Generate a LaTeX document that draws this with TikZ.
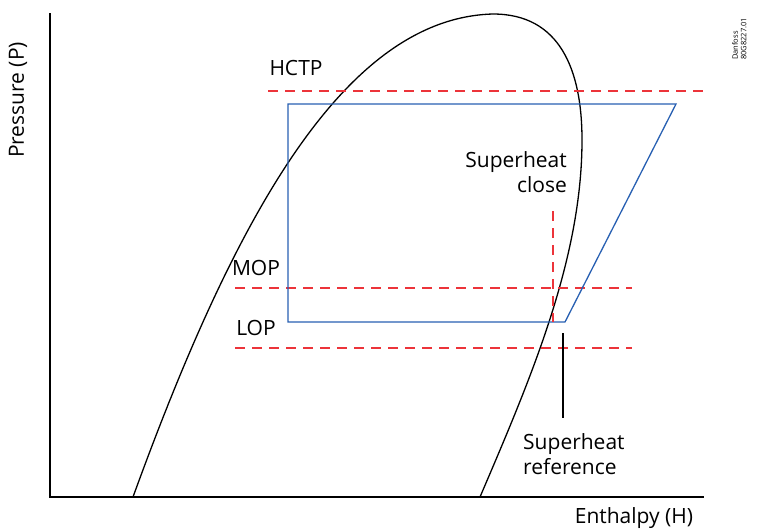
\documentclass[tikz,border=0pt]{standalone}
\usepackage{fontspec}
\setmainfont{Open Sans}
\usepackage{tikz}
\usetikzlibrary{positioning, calc}
\definecolor{limitred}{RGB}{236,52,58}
\definecolor{cycleblue}{RGB}{40,96,178}

\begin{document}
\begin{tikzpicture}[x=1pt, y=-1pt,
    axisline/.style={draw=black, line width=1.2pt},
    limitline/.style={draw=limitred, line width=1.4pt, dash pattern=on 10pt off 7pt},
    cycleline/.style={draw=cycleblue, line width=1.3pt},
    lbl/.style={font=\fontsize{21}{25}\selectfont, inner sep=0pt},
    tiny/.style={font=\fontsize{7.5}{8.5}\selectfont, inner sep=0pt}]
    \useasboundingbox (0,0) rectangle (758,531);

    % 坐标轴
    \coordinate (O) at (50,497);
    \coordinate (ytop) at (50,13);
    \coordinate (xend) at (704,497);
    \draw[axisline] (ytop) -- (O) -- (xend);
    \node[lbl, rotate=90] (ylab) at (18,100) {Pressure (P)};
    \node[lbl] (xlab) at (634,518) {Enthalpy (H)};
    \node[tiny, rotate=90, align=left, anchor=north west] (stamp) at (732,60) {Danfoss\\80G8227.01};

    % 饱和曲线
    \coordinate (liqBase) at (133,497);
    \coordinate (crit) at (493,14);
    \coordinate (vapMax) at (582,140);
    \coordinate (vapBase) at (480,497);
    \draw[line width=1.3pt] (liqBase) .. controls (230,230) and (340,18) .. (crit)
        .. controls (560,14) and (582,70) .. (vapMax)
        .. controls (582,260) and (530,380) .. (vapBase);

    % 压力限值
    \node[lbl] (hctp) at (296,68) {HCTP};
    \node[lbl] (mop) at (256,268) {MOP};
    \node[lbl] (lop) at (256,328) {LOP};
    \coordinate (hctpA) at (268,91);  \coordinate (hctpB) at (706,91);
    \coordinate (mopA) at (235,288);  \coordinate (mopB) at (632,288);
    \coordinate (lopA) at (235,348);  \coordinate (lopB) at (632,348);
    \draw[limitline] (hctpA) -- (hctpB);
    \draw[limitline] (mopA) -- (mopB);
    \draw[limitline] (lopA) -- (lopB);

    % 循环
    \coordinate (c1) at (288,104);
    \coordinate (c2) at (676,104);
    \coordinate (c3) at (565,322);
    \coordinate (c4) at (288,322);
    \draw[cycleline] (c1) -- (c2) -- (c3) -- (c4) -- cycle;

    % 过热度
    \node[lbl, align=right, anchor=east] (shclose) at (567,172) {Superheat\\close};
    \coordinate (closeTop) at (553,211);
    \draw[limitline] (closeTop) -- (closeTop |- c4);
    \node[lbl, align=left, anchor=west] (shref) at (523,454) {Superheat\\reference};
    \coordinate (refTop) at (563,333);
    \draw[line width=1.2pt] (refTop) -- (refTop |- 0,418);
\end{tikzpicture}
\end{document}
